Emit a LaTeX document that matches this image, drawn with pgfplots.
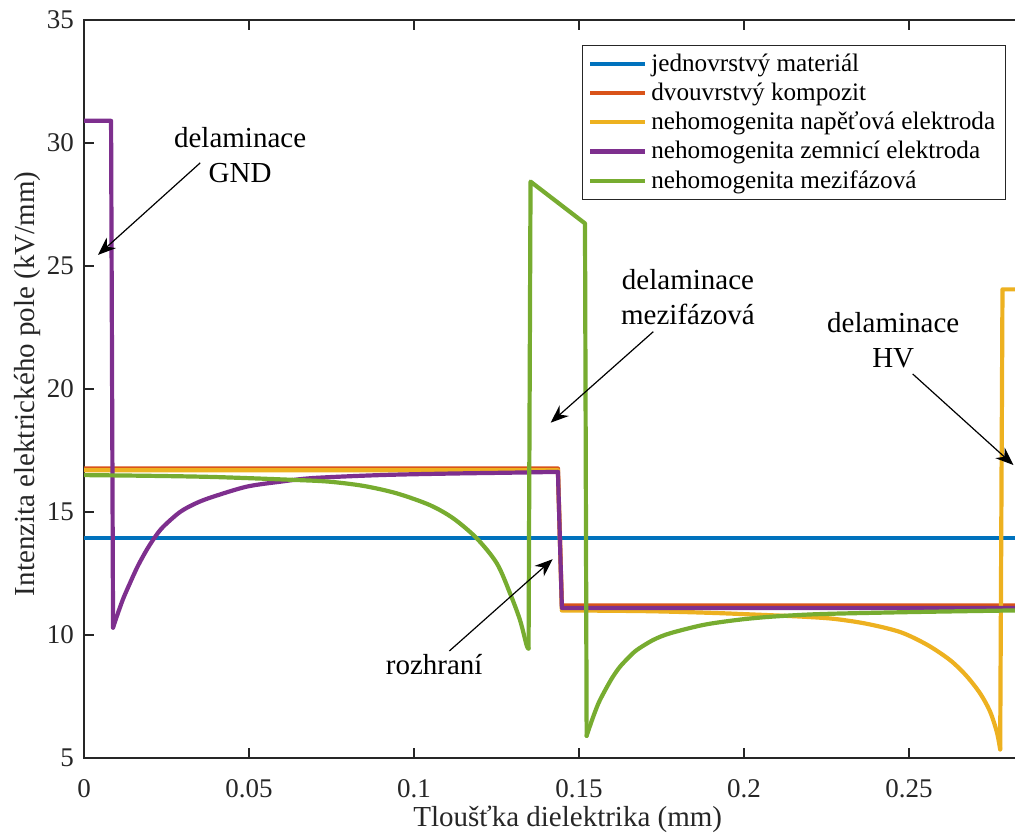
\documentclass[border=0pt]{standalone}
\usepackage{pgfplots}
\pgfplotsset{compat=1.18}
\usepackage{fontspec}
\setmainfont{Liberation Serif}
\usetikzlibrary{arrows.meta}
\definecolor{mblue}{rgb}{0,0.447,0.741}
\definecolor{morange}{rgb}{0.85,0.325,0.098}
\definecolor{myellow}{rgb}{0.929,0.694,0.125}
\definecolor{mpurple}{rgb}{0.494,0.184,0.556}
\definecolor{mgreen}{rgb}{0.466,0.674,0.188}
\definecolor{axgray}{rgb}{0.15,0.15,0.15}
\begin{document}
\begin{tikzpicture}
\begin{axis}[
  scale only axis,
  width=466pt, height=369pt,
  xmin=0, xmax=0.2824,
  ymin=5, ymax=35,
  xtick={0,0.05,0.1,0.15,0.2,0.25},
  xticklabels={0,0.05,0.1,0.15,0.2,0.25},
  ytick={5,10,15,20,25,30,35},
  xtick pos=both, ytick pos=left,
  tick align=inside,
  major tick length=5pt,
  /pgf/number format/assume math mode=true,
  axis line style={axgray, line width=0.6pt},
  every tick/.style={axgray, line width=0.6pt},
  tick label style={font=\fontsize{13.5}{16}\selectfont, text=axgray},
  xticklabel style={yshift=-7pt},
  yticklabel style={xshift=-1.5pt},
  every axis x label/.style={at={(axis description cs:0.519,-0.0825)}, anchor=center},
  every axis y label/.style={at={(axis description cs:-0.0605,0.507)}, rotate=90, anchor=center},
  label style={font=\fontsize{14.5}{17}\selectfont, text=axgray},
  xlabel={Tloušťka dielektrika (mm)},
  ylabel={Intenzita elektrického pole (kV/mm)},
  legend style={at={(axis description cs:0.989,0.966)}, anchor=north east,
    draw=axgray, line width=0.6pt, fill=white, font=\fontsize{12.6}{14.5}\selectfont,
    inner xsep=3pt, inner ysep=2pt, row sep=0.3pt},
  legend cell align=left,
  legend image code/.code={\draw[#1, line width=2.1pt, line cap=butt] (0pt,0pt) -- (27.5pt,0pt);},
  every axis plot/.append style={line width=2.1pt, line join=round, line cap=round},
]
% blue
\addplot[mblue, line cap=butt] coordinates {(0,13.95) (0.2824,13.95)};
\addlegendentry{jednovrstvý materiál}
% orange
\addplot[morange] coordinates {(0,16.77) (0.1436,16.77) (0.1448,11.2) (0.2824,11.2)};
\addlegendentry{dvouvrstvý kompozit}
% yellow
\addplot[myellow] coordinates {(0,16.7) (0.1436,16.7) (0.1448,11.0)};
\addlegendentry{nehomogenita napěťová elektroda}
\addplot[myellow, smooth, forget plot] coordinates {
(0.1448,11.0) (0.17,10.97) (0.19,10.9) (0.205,10.82)
(0.217,10.75) (0.227,10.66) (0.237,10.46) (0.2473,10.12) (0.2555,9.6)
(0.2624,8.98) (0.2673,8.35) (0.2715,7.63) (0.2745,6.9) (0.2766,6.05)
(0.2776,5.35)};
\addplot[myellow, forget plot] coordinates {(0.2776,5.35) (0.2783,24.05) (0.2824,24.05)};
% purple
\addplot[mpurple] coordinates {(0,30.9) (0.0082,30.9) (0.0088,10.3)};
\addlegendentry{nehomogenita zemnicí elektroda}
\addplot[mpurple, smooth, forget plot] coordinates {
(0.0088,10.3) (0.0099,10.74) (0.0118,11.45) (0.0139,12.1) (0.0163,12.8) (0.019,13.46)
(0.0215,13.98) (0.024,14.4) (0.0291,15.0) (0.034,15.36) (0.0391,15.62) (0.0493,16.03) (0.0594,16.23)
(0.0694,16.38) (0.0897,16.5) (0.11,16.56) (0.13,16.6) (0.1436,16.63)};
\addplot[mpurple, forget plot] coordinates {(0.1436,16.63) (0.1448,11.1) (0.2824,11.1)};
% green
\addplot[mgreen, smooth, forget plot] coordinates {
(0,16.5) (0.02,16.47) (0.04,16.42) (0.0645,16.3) (0.0745,16.23) (0.0847,16.06)
(0.0947,15.76) (0.1048,15.28) (0.1119,14.74) (0.119,13.93) (0.1251,12.91)
(0.1291,11.69) (0.1321,10.61) (0.1341,9.59) (0.1347,9.45)};
\addplot[mgreen] coordinates {(0.1347,9.45) (0.1353,28.43) (0.1518,26.73) (0.1523,5.9)};
\addlegendentry{nehomogenita mezifázová}
\addplot[mgreen, smooth, forget plot] coordinates {
(0.1523,5.9) (0.1533,6.3) (0.1543,6.68) (0.1558,7.2) (0.1574,7.63) (0.16,8.25)
(0.1624,8.71) (0.165,9.08) (0.1675,9.39) (0.1725,9.8) (0.1776,10.07) (0.1877,10.41)
(0.1978,10.61) (0.2079,10.74) (0.223,10.85) (0.25,10.93) (0.2824,11.0)};
% annotations
\node[align=center, font=\fontsize{14.5}{17.5}\selectfont] at (axis cs:0.0473,29.51) {delaminace\\GND};
\draw[-{Stealth[length=9pt,width=7pt]}, line width=0.6pt] (axis cs:0.0352,29.19) -- (axis cs:0.00424,25.45);
\node[align=center, font=\fontsize{14.5}{17.5}\selectfont] at (axis cs:0.1830,23.74) {delaminace\\mezifázová};
\draw[-{Stealth[length=9pt,width=7pt]}, line width=0.6pt] (axis cs:0.1725,22.33) -- (axis cs:0.1414,18.63);
\node[font=\fontsize{14.5}{17.5}\selectfont] at (axis cs:0.1061,8.78) {rozhraní};
\draw[-{Stealth[length=9pt,width=7pt]}, line width=0.6pt] (axis cs:0.1107,9.35) -- (axis cs:0.142,13.08);
\node[align=center, font=\fontsize{14.5}{17.5}\selectfont] at (axis cs:0.2452,22.0) {delaminace\\HV};
\draw[-{Stealth[length=9pt,width=7pt]}, line width=0.6pt] (axis cs:0.2511,20.61) -- (axis cs:0.2816,16.91);
\end{axis}
\pgfresetboundingbox
\useasboundingbox (-42pt,-37.5pt) rectangle (465.5pt,379pt);
\end{tikzpicture}
\end{document}
